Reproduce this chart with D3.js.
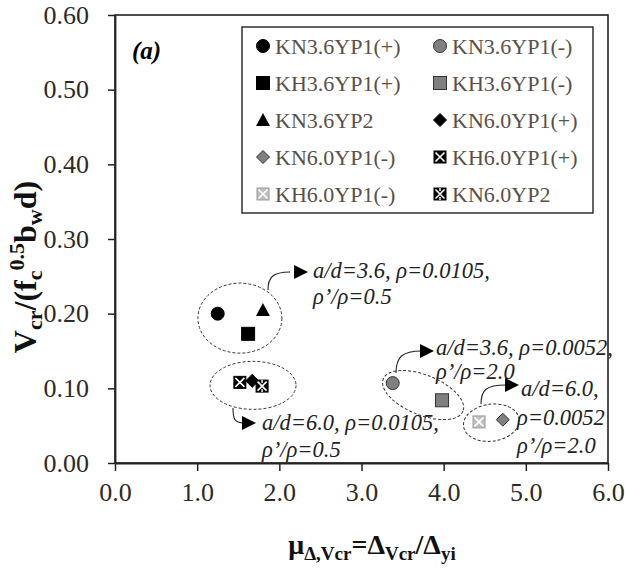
<!DOCTYPE html>
<html><head><meta charset="utf-8">
<script src="https://cdn.jsdelivr.net/npm/d3@7"></script>
<style>body{margin:0;background:#fff}</style>
</head><body>
<script>
// ---- data ----
const specimens = ["KN3.6YP1(+)","KN3.6YP1(-)","KH3.6YP1(+)","KH3.6YP1(-)","KN3.6YP2","KN6.0YP1(+)","KN6.0YP1(-)","KH6.0YP1(+)","KH6.0YP1(-)","KN6.0YP2"];
const ductility = [1.25, 3.38, 1.62, 3.98, 1.80, 1.67, 4.72, 1.52, 4.43, 1.79];
const shearRatio = [0.200, 0.107, 0.173, 0.084, 0.205, 0.110, 0.058, 0.108, 0.055, 0.103];
const markerType = ["circle","circle","square","square","triangle","diamond","diamond","xbox","xbox","xbox2"];
const markerFill = ["#000","#808080","#000","#808080","#000","#000","#808080","#000","#bfbfbf","#000"];
const xTicks = [0,1,2,3,4,5,6];
const yTicks = [0,0.1,0.2,0.3,0.4,0.5,0.6];
const groupNotes = [
  ["a/d=3.6, ρ=0.0105,","ρ’/ρ=0.5"],
  ["a/d=6.0, ρ=0.0105,","ρ’/ρ=0.5"],
  ["a/d=3.6, ρ=0.0052,","ρ’/ρ=2.0"],
  ["a/d=6.0,","ρ=0.0052","ρ’/ρ=2.0"]
];

const W=625,H=571;
const FONT="'Liberation Serif','Times New Roman',serif";
const svg=d3.select("body").append("svg").attr("width",W).attr("height",H)
  .style("font-family",FONT);
const x=d3.scaleLinear().domain([0,6]).range([115,608]);
const y=d3.scaleLinear().domain([0,0.6]).range([463,15]);

// frame
svg.append("rect").attr("x",115).attr("y",15).attr("width",493).attr("height",448)
  .attr("fill","none").attr("stroke","#222").attr("stroke-width",1.6);

const xa=svg.append("g").attr("transform","translate(0,463)")
  .call(d3.axisBottom(x).tickValues(xTicks).tickFormat(d3.format(".1f")).tickSizeInner(8).tickSizeOuter(0).tickPadding(12));
const ya=svg.append("g").attr("transform","translate(115,0)")
  .call(d3.axisLeft(y).tickValues(yTicks).tickFormat(d3.format(".2f")).tickSizeInner(7).tickSizeOuter(0).tickPadding(19));
[xa,ya].forEach(a=>{
  a.select(".domain").attr("stroke","#222").attr("stroke-width",1.8);
  a.selectAll(".tick line").attr("stroke","#222").attr("stroke-width",1.5);
  a.selectAll(".tick text").attr("fill","#2e2a26").style("font-size","26px")
    .style("font-family",FONT);
});

// (a)
svg.append("text").attr("x",132).attr("y",59).text("(a)")
  .style("font-size","25px").style("font-weight","bold").style("font-style","italic");

// axis titles
const yt=svg.append("text").attr("transform","translate(36,267) rotate(-90)")
  .attr("text-anchor","middle").style("font-size","32px").style("font-weight","bold").attr("fill","#111");
yt.append("tspan").text("V");
yt.append("tspan").text("cr").attr("dy",6).style("font-size","22px");
yt.append("tspan").text("/(f").attr("dy",-6);
yt.append("tspan").text("c").attr("dy",6).style("font-size","22px");
yt.append("tspan").text("0.5").attr("dy",-18).style("font-size","22px");
yt.append("tspan").text("b").attr("dy",12);
yt.append("tspan").text("w").attr("dy",6).style("font-size","22px");
yt.append("tspan").text("d)").attr("dy",-6);

const xt=svg.append("text").attr("x",372).attr("y",554)
  .attr("text-anchor","middle").style("font-size","28px").style("font-weight","bold").attr("fill","#111");
xt.append("tspan").text("μ");
xt.append("tspan").text("Δ,Vcr").attr("dy",6).style("font-size","19px");
xt.append("tspan").text("=Δ").attr("dy",-6);
xt.append("tspan").text("Vcr").attr("dy",6).style("font-size","19px");
xt.append("tspan").text("/Δ").attr("dy",-6);
xt.append("tspan").text("yi").attr("dy",6).style("font-size","19px");

// marker drawing
function marker(g, type, fill, cx, cy){
  const stroke = fill==="#bfbfbf" ? "#9a9a9a" : (fill==="#000"?"#000":"#333");
  if(type==="circle"){
    g.append("circle").attr("cx",cx).attr("cy",cy).attr("r",6.5).attr("fill",fill).attr("stroke",stroke).attr("stroke-width",1);
  } else if(type==="square"){
    g.append("rect").attr("x",cx-6.5).attr("y",cy-6.5).attr("width",13).attr("height",13).attr("fill",fill).attr("stroke",stroke).attr("stroke-width",1);
  } else if(type==="triangle"){
    g.append("path").attr("d",`M${cx},${cy-7}L${cx+7},${cy+6}L${cx-7},${cy+6}Z`).attr("fill",fill);
  } else if(type==="diamond"){
    g.append("path").attr("d",`M${cx},${cy-6.5}L${cx+6.5},${cy}L${cx},${cy+6.5}L${cx-6.5},${cy}Z`).attr("fill",fill).attr("stroke",stroke).attr("stroke-width",1);
  } else {
    const s=6;
    g.append("rect").attr("x",cx-s).attr("y",cy-s).attr("width",2*s).attr("height",2*s).attr("fill",fill).attr("stroke",stroke).attr("stroke-width",1);
    g.append("path").attr("d",`M${cx-s+1.5},${cy-s+1.5}L${cx+s-1.5},${cy+s-1.5}M${cx+s-1.5},${cy-s+1.5}L${cx-s+1.5},${cy+s-1.5}`)
      .attr("stroke","#fff").attr("stroke-width",1.6);
    if(type==="xbox2"){
      g.append("path").attr("d",`M${cx},${cy-s}L${cx},${cy-s+3}M${cx},${cy+s}L${cx},${cy+s-3}`).attr("stroke","#fff").attr("stroke-width",1.4);
    }
  }
}

// ellipses (data-space centers)
const ell=[
  {cx:1.52,cy:0.194,rx:42,ry:35,rot:0},
  {cx:1.68,cy:0.104,rx:43,ry:24,rot:0},
  {cx:3.75,cy:0.091,rx:43,ry:20,rot:22},
  {cx:4.58,cy:0.054,rx:28,ry:18.5,rot:-8}
];
ell.forEach(e=>{
  svg.append("ellipse").attr("cx",0).attr("cy",0).attr("rx",e.rx).attr("ry",e.ry)
    .attr("transform",`translate(${x(e.cx)},${y(e.cy)}) rotate(${e.rot})`)
    .attr("fill","none").attr("stroke","#333").attr("stroke-width",1).attr("stroke-dasharray","3,2");
});

// points
const pg=svg.append("g");
specimens.forEach((s,i)=>marker(pg,markerType[i],markerFill[i],x(ductility[i]),y(shearRatio[i])));

// annotation arrows & text
const notes=[
  {path:"M268,290 C268,278 272,272 290,272", tip:[308,272], tx:313, ty:[278,304]},
  {path:"M233,408 C233,418 234,423 244,423", tip:[256,423], tx:262, ty:[430,457]},
  {path:"M396,373 C396,357 402,351 422,351", tip:[434,351], tx:436, ty:[355,379]},
  {path:"M481,404 C481,390 486,385 506,385", tip:[519,385], tx:521, ty:[396,425,453]}
];
notes.forEach((n,i)=>{
  svg.append("path").attr("d",n.path).attr("fill","none").attr("stroke","#222").attr("stroke-width",1.1);
  const [tx,ty]=n.tip;
  svg.append("path").attr("d",`M${tx},${ty}L${tx-14},${ty-7}L${tx-14},${ty+7}Z`).attr("fill","#000");
  groupNotes[i].forEach((line,j)=>{
    const xx = (i===3 && j>0) ? n.tx-4 : n.tx;
    svg.append("text").attr("x",xx).attr("y",n.ty[j]).text(line)
      .style("font-size","22.5px").style("font-style","italic").attr("fill","#222");
  });
});

// legend
svg.append("rect").attr("x",242).attr("y",27).attr("width",351).attr("height",186)
  .attr("fill","#fff").attr("stroke","#222").attr("stroke-width",1.4);
const lg=svg.append("g");
specimens.forEach((s,i)=>{
  const col=i%2, row=Math.floor(i/2);
  const mx= col===0?263:440, my=46+row*37;
  marker(lg,markerType[i],markerFill[i],mx,my);
  lg.append("text").attr("x",mx+12).attr("y",my+7.5).text(s)
    .style("font-size","22px").attr("fill","#5a5048");
});
</script>
</body></html>
